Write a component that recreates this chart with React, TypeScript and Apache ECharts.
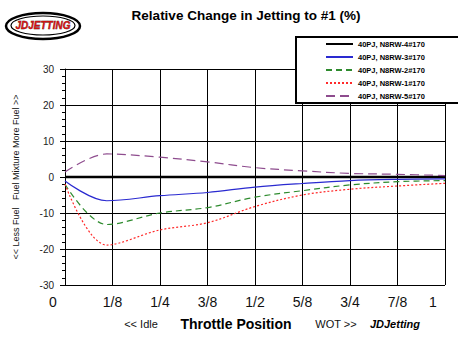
import React, { useEffect, useRef } from "react";
import * as echarts from "echarts";

const FONT = "'Liberation Sans', Arial, sans-serif";

const xPositions = [0, 0.11, 0.25, 0.375, 0.5, 0.625, 0.75, 0.875, 1];
const xTickLabels = ["0", "1/8", "1/4", "3/8", "1/2", "5/8", "3/4", "7/8", "1"];
const seriesNames = [
  "40PJ, N8RW-4#170",
  "40PJ, N8RW-3#170",
  "40PJ, N8RW-2#170",
  "40PJ, N8RW-1#170",
  "40PJ, N8RW-5#170",
];
const jet4 = [0, 0, 0, 0, 0, 0, 0, 0, 0];
const jet3 = [-1.1, -6.6, -5.2, -4.3, -2.8, -1.8, -1.0, -0.65, -0.5];
const jet2 = [-2.0, -13.2, -10.0, -8.5, -5.6, -3.8, -2.2, -1.3, -1.0];
const jet1 = [-2.0, -18.9, -14.7, -12.7, -8.2, -5.0, -3.4, -2.5, -1.75];
const jet5 = [1.4, 6.4, 5.5, 4.2, 2.6, 1.7, 1.0, 0.75, 0.4];

const pair = (ys: number[]) => xPositions.map((x, i) => [x, ys[i]]);

export default function App() {
  const ref = useRef<HTMLDivElement>(null);
  useEffect(() => {
    if (!ref.current) return;
    const chart = echarts.init(ref.current, undefined, { renderer: "svg" });
    const mk = (
      name: string,
      ys: number[],
      color: string,
      width: number,
      type: any
    ) => ({
      name,
      type: "line",
      data: pair(ys),
      symbol: "none",
      smooth: 0.35,
      lineStyle: { color, width, type },
      itemStyle: { color },
    });
    chart.setOption({
      animation: false,
      backgroundColor: "#ffffff",
      textStyle: { fontFamily: FONT },
      grid: { left: 65, right: 13, top: 69, bottom: 52 },
      legend: {
        orient: "vertical",
        left: 296,
        top: 37,
        padding: [3, 43, 3, 29],
        itemWidth: 27,
        itemHeight: 10,
        itemGap: 5,
        borderColor: "#000",
        borderWidth: 2,
        backgroundColor: "#fff",
        itemStyle: { opacity: 0 },
        textStyle: { fontSize: 7.5, fontWeight: "bold", color: "#000", fontFamily: FONT },
        data: seriesNames,
      },
      xAxis: {
        type: "value",
        min: 0,
        max: 1,
        interval: 0.125,
        axisLine: { show: true, lineStyle: { color: "#000", width: 1 } },
        axisTick: { show: false },
        splitLine: { show: true, lineStyle: { color: "#000", width: 1 } },
        axisLabel: {
          margin: 10,
          fontSize: 14,
          color: "#111",
          fontFamily: FONT,
          formatter: (v: number) => {
            const idx = Math.round(v * 8);
            const t = xTickLabels[idx] ?? "";
            if (idx === 0 || idx === 8) return "{e|" + t + "}";
            return t;
          },
          rich: { e: { fontSize: 14, color: "#111", fontFamily: FONT, padding: [0, 24, 0, 0] } },
        },
      },
      yAxis: {
        type: "value",
        min: -30,
        max: 30,
        interval: 10,
        name: "<< Less Fuel   Fuel Mixture More Fuel >>",
        nameLocation: "middle",
        nameGap: 45,
        nameRotate: 90,
        nameTextStyle: { fontSize: 9, color: "#111", fontFamily: FONT },
        axisLine: { show: true, onZero: false, lineStyle: { color: "#000", width: 1 } },
        axisTick: { show: true, length: 5, lineStyle: { color: "#000", width: 1 } },
        minorTick: { show: true, splitNumber: 5, length: 3, lineStyle: { color: "#000", width: 1 } },
        splitLine: { show: true, lineStyle: { color: "#000", width: 1 } },
        axisLabel: { margin: 11, fontSize: 10, color: "#222", fontFamily: FONT },
      },
      series: [
        mk(seriesNames[0], jet4, "#000000", 2.5, "solid"),
        mk(seriesNames[1], jet3, "#2a2ad0", 1.2, "solid"),
        mk(seriesNames[2], jet2, "#2e8b2e", 1.2, [6, 4]),
        mk(seriesNames[3], jet1, "#ff2a2a", 1.2, [2, 2]),
        mk(seriesNames[4], jet5, "#8e4c8e", 1.2, [9, 5]),
      ],
      graphic: [
        {
          type: "text",
          x: 246,
          y: 15,
          style: {
            text: "Relative Change in Jetting to #1 (%)",
            align: "center",
            verticalAlign: "middle",
            fontSize: 13.5,
            fontWeight: "bold",
            fill: "#000",
            fontFamily: FONT,
          },
        },
        {
          type: "ellipse",
          shape: { cx: 43, cy: 26, rx: 37, ry: 13 },
          style: { fill: "#fff", stroke: "#000", lineWidth: 2.5 },
        },
        {
          type: "ellipse",
          shape: { cx: 43, cy: 25.5, rx: 32, ry: 9.5 },
          style: { fill: "#fff", stroke: "#000", lineWidth: 1.2 },
        },
        {
          type: "text",
          x: 43,
          y: 25,
          style: {
            text: "JDJETTING",
            align: "center",
            verticalAlign: "middle",
            fontSize: 10,
            fontWeight: 900,
            fontStyle: "italic",
            fill: "#d01010",
            stroke: "#300",
            lineWidth: 0.4,
            fontFamily: FONT,
          },
        },
        {
          type: "text",
          x: 141,
          y: 324,
          style: { text: "<< Idle", align: "center", verticalAlign: "middle", fontSize: 11, fill: "#111", fontFamily: FONT },
        },
        {
          type: "text",
          x: 236,
          y: 324,
          style: { text: "Throttle Position", align: "center", verticalAlign: "middle", fontSize: 14, fontWeight: "bold", fill: "#000", fontFamily: FONT },
        },
        {
          type: "text",
          x: 336,
          y: 324,
          style: { text: "WOT >>", align: "center", verticalAlign: "middle", fontSize: 11, fill: "#111", fontFamily: FONT },
        },
        {
          type: "text",
          x: 395,
          y: 324,
          style: { text: "JDJetting", align: "center", verticalAlign: "middle", fontSize: 11, fontWeight: "bold", fontStyle: "italic", fill: "#000", fontFamily: FONT },
        },
      ],
    });
    return () => chart.dispose();
  }, []);
  return (
    <div
      ref={ref}
      style={{ position: "fixed", left: 0, top: 0, width: 458, height: 337 }}
    />
  );
}
